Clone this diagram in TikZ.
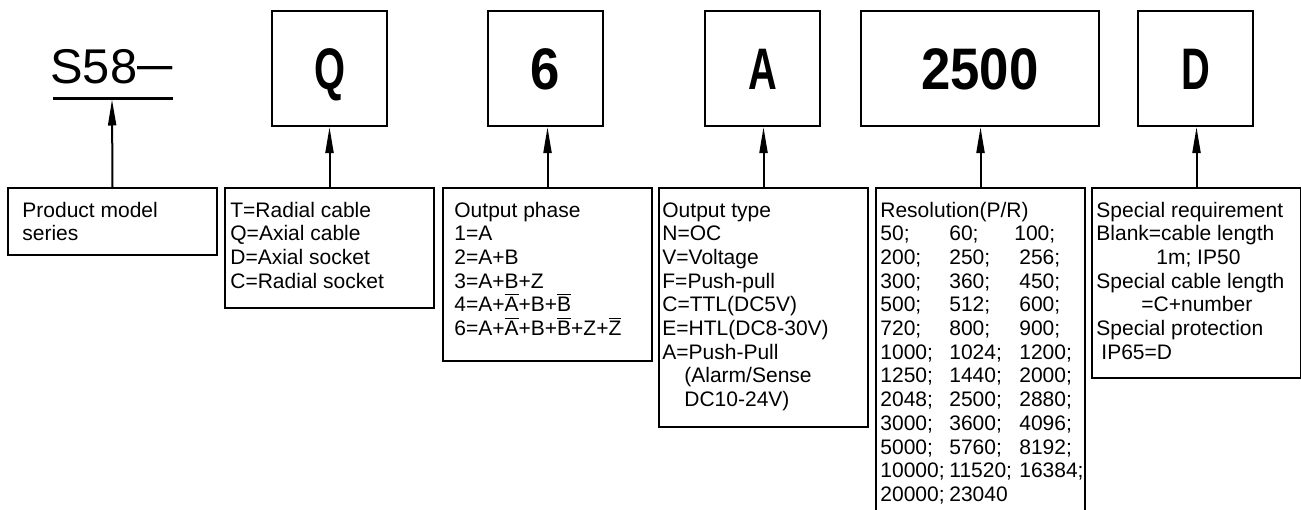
\documentclass[tikz,border=0pt]{standalone}
\usepackage{fontspec}
\setmainfont{Liberation Sans}
\newfontfamily\codefont[FakeStretch=0.68]{Liberation Sans Bold}
\newfontfamily\digitfont[FakeStretch=0.9]{Liberation Sans Bold}
\usetikzlibrary{arrows.meta}
\newcommand{\desclines}[1]{\begin{tabular}[t]{@{}l@{}}#1\end{tabular}}
\newcommand{\ob}[1]{\smash{$\overline{\mbox{#1}}$}}

\begin{document}
\begin{tikzpicture}[x=0.5pt,y=-0.5pt,
  codebox/.style={draw,line width=1pt,minimum height=57.5pt,inner sep=0pt,text height=21pt,text depth=0pt,font=\fontsize{29.3}{30}\selectfont},
  descbox/.style={draw,line width=1pt,anchor=north west,inner sep=0pt,minimum width=104.5pt},
  desctext/.style={anchor=base west,inner sep=0pt,font=\fontsize{10.5}{11.85}\selectfont},
  up/.style={-{Triangle[length=13pt,width=4pt]},line width=1pt}]
\useasboundingbox (0,0) rectangle (1301,509);

% code line
\node[anchor=base west,inner sep=0pt,font=\fontsize{24.4}{26}\selectfont] (series) at (50,83) {S58\raisebox{1.5pt}{\addfontfeature{FakeStretch=1.3}–}};
\draw[line width=1.5pt] (53,98) -- (173,98);
\coordinate (ul) at (112,99.5);
\node[codebox,minimum width=57.5pt] (q) at (329.5,68.5) {\codefont Q};
\node[codebox,minimum width=57.5pt] (ph) at (545.5,68.5) {\digitfont 6};
\node[codebox,minimum width=57.5pt] (ty) at (762.5,68.5) {\codefont A};
\node[codebox,minimum width=119pt] (res) at (980,68.5) {\digitfont 2500};
\node[codebox,minimum width=57.5pt] (sp) at (1195.5,68.5) {\codefont D};

% description boxes
\node[descbox,minimum height=33.5pt] (pbox) at (7,187) {};
\node[descbox,minimum height=60pt] (qbox) at (224,187) {};
\node[descbox,minimum height=86.5pt] (phbox) at (442,187) {};
\node[descbox,minimum height=119.5pt] (tbox) at (658,187) {};
\node[descbox,minimum height=170pt] (rbox) at (875,187) {};
\node[descbox,minimum height=95pt] (sbox) at (1091,187) {};

\node[desctext] (ptext) at (22,217) {\desclines{Product model\\series}};
\node[desctext] (qtext) at (230,217) {\desclines{T=Radial cable\\Q=Axial cable\\D=Axial socket\\C=Radial socket}};
\node[desctext] (phtext) at (454,217) {\desclines{Output phase\\1=A\\2=A+B\\3=A+B+Z\\4=A+\ob{A}+B+\ob{B}\\6=A+\ob{A}+B+\ob{B}+Z+\ob{Z}}};
\node[desctext] (ttext) at (662,217) {\desclines{Output type\\N=OC\\V=Voltage\\F=Push-pull\\C=TTL(DC5V)\\E=HTL(DC8-30V)\\A=Push-Pull\\\hspace{11pt}(Alarm/Sense\\\hspace{11pt}DC10-24V)}};
\node[desctext] (rtext) at (880,217) {\begin{tabular}[t]{@{}p{34.5pt}@{}p{35pt}@{}l@{}}
\multicolumn{3}{@{}l@{}}{Resolution(P/R)}\\
50; & 60; & \hspace{-2.5pt}100;\\
200; & 250; & 256;\\
300; & 360; & 450;\\
500; & 512; & 600;\\
720; & 800; & 900;\\
1000; & 1024; & 1200;\\
1250; & 1440; & 2000;\\
2048; & 2500; & 2880;\\
3000; & 3600; & 4096;\\
5000; & 5760; & 8192;\\
10000; & 11520; & 16384;\\
20000; & 23040 & \\
\end{tabular}};
\node[desctext] (stext) at (1096,217) {\desclines{Special requirement\\Blank=cable length\\\hspace{30pt}1m; IP50\\Special cable length\\\hspace{22.5pt}=C+number\\Special protection\\\hspace{2.5pt}IP65=D}};

% arrows
\draw[up] (pbox.north) -- (ul);
\draw[up] (qbox.north) -- (qbox.north |- q.south);
\draw[up] (phbox.north) -- (phbox.north |- ph.south);
\draw[up] (tbox.north) -- (tbox.north |- ty.south);
\draw[up] (rbox.north) -- (rbox.north |- res.south);
\draw[up] (sbox.north) -- (sbox.north |- sp.south);
\end{tikzpicture}
\end{document}
